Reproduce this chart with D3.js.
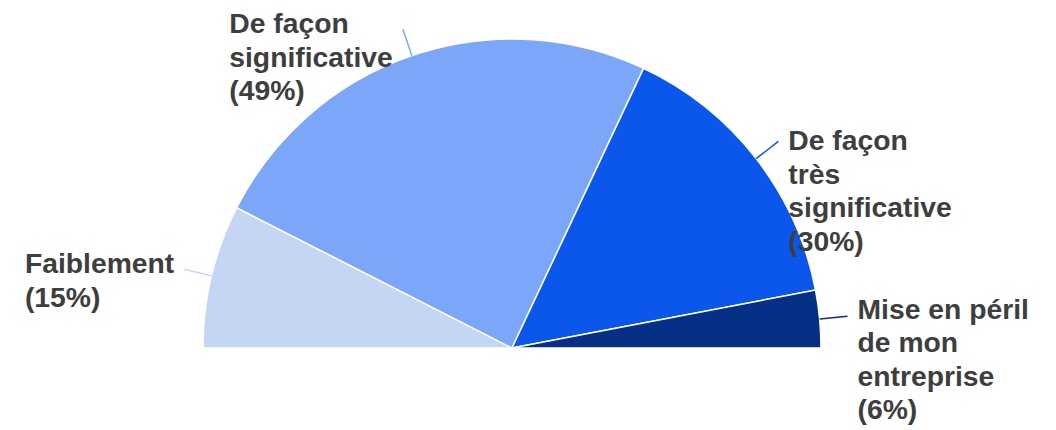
<!DOCTYPE html>
<html>
<head>
<meta charset="utf-8">
<script src="https://cdn.jsdelivr.net/npm/d3@7"></script>
<style>
  body { margin: 0; background: #fff; }
  text { font-family: "Liberation Sans", Arial, sans-serif; font-weight: bold; fill: #3e3e3e; }
</style>
</head>
<body>
<script>
var width = 1056, height = 430;

// data
var categories = ["Faiblement", "De façon significative", "De façon très significative", "Mise en péril de mon entreprise"];
var values = [15, 49, 30, 6];
var labelLines = [["Faiblement"], ["De façon", "significative"], ["De façon", "très", "significative"], ["Mise en péril", "de mon", "entreprise"]];
var colors = ["#c5d6f5", "#7ca6f8", "#0b57eb", "#062f86"];

var cx = 512, cy = 348, radius = 309;
var fontSize = 28.3, lineH = 33.5;

var svg = d3.select("body").append("svg")
    .attr("width", width)
    .attr("height", height);

var pie = d3.pie()
    .startAngle(-Math.PI / 2)
    .endAngle(Math.PI / 2)
    .sort(null);

var arc = d3.arc().innerRadius(0).outerRadius(radius);

var total = d3.sum(values);
var arcs = pie(values);

var g = svg.append("g").attr("transform", "translate(" + cx + "," + cy + ")");

g.selectAll("path")
    .data(arcs)
    .enter().append("path")
    .attr("d", arc)
    .attr("fill", function(d, i) { return colors[i]; })
    .attr("stroke", "#fff")
    .attr("stroke-width", 1.5);

arcs.forEach(function(d, i) {
    var a = (d.startAngle + d.endAngle) / 2;
    var x1 = radius * Math.sin(a), y1 = -radius * Math.cos(a);
    var x2 = (radius + 28) * Math.sin(a), y2 = -(radius + 28) * Math.cos(a);
    g.append("line")
        .attr("x1", x1).attr("y1", y1)
        .attr("x2", x2).attr("y2", y2)
        .attr("stroke", colors[i])
        .attr("stroke-width", 1.5);

    var lines = labelLines[i].concat(["(" + Math.round(values[i] / total * 100) + "%)"]);
    var ex = cx + x2, ey = cy + y2;
    var firstBase = ey + (x2 > 0 ? 9 : 4);
    var lastBase = firstBase + (lines.length - 1) * lineH;
    if (lastBase > height - 11) firstBase -= lastBase - (height - 11);

    var t = svg.append("text")
        .style("font-size", fontSize + "px");
    var spans = t.selectAll("tspan")
        .data(lines)
        .enter().append("tspan")
        .attr("y", function(l, j) { return firstBase + j * lineH; })
        .text(function(l) { return l; });

    var maxW = 0;
    spans.each(function() { maxW = Math.max(maxW, this.getComputedTextLength()); });
    var left = x2 > 0 ? ex + 10 : ex - 10 - maxW;
    spans.attr("x", left);
});
</script>
</body>
</html>
